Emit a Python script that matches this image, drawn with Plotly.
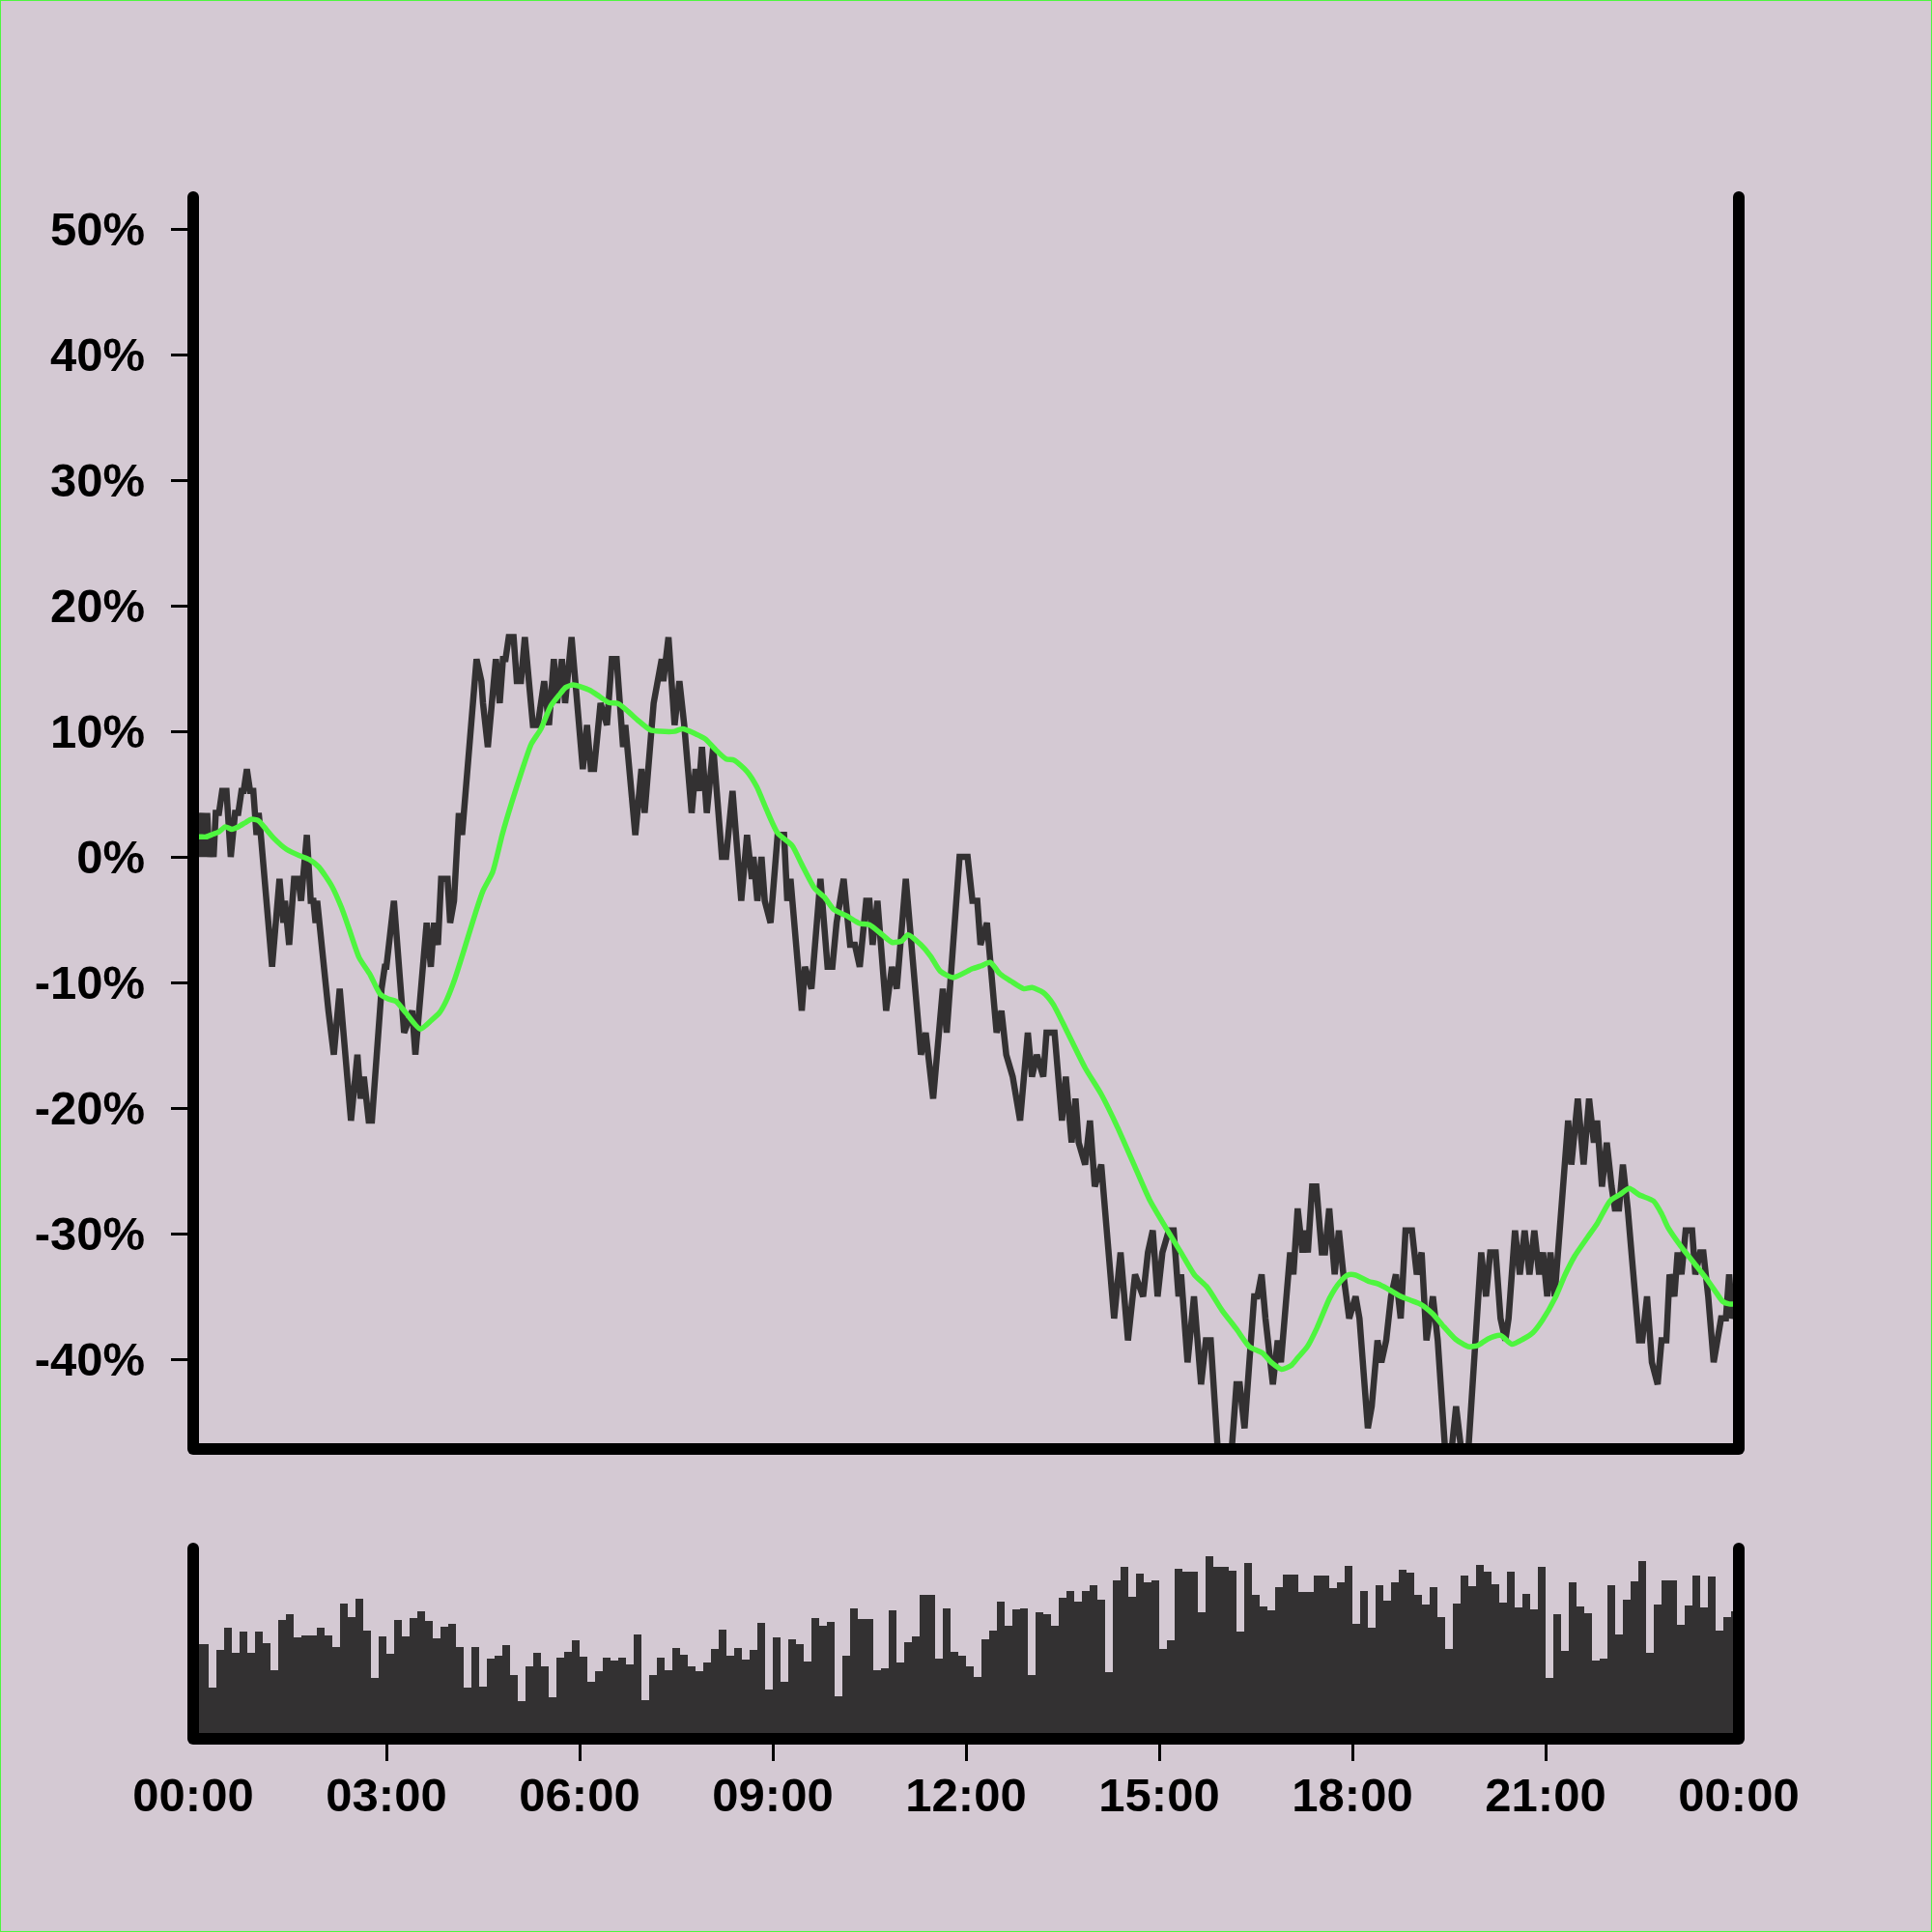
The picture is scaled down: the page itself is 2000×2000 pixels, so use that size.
import plotly.graph_objects as go

BG = "#d4c9d3"
DARK = "#333132"
GREEN = "#4ef53f"

# ---- price change line (minutes after 00:00, percent) ----
LINE_MIN = [
    0, 3, 6, 9, 11, 13, 15, 17, 19, 21,
    24, 27, 31, 35, 39, 42, 45, 47, 50, 53,
    56, 59, 61, 63, 73.5, 80.4, 84, 85.5, 89.4, 94,
    98, 100.5, 105.9, 109.5, 112, 114, 115.5, 123, 126, 131,
    136.5, 147, 153, 156, 159, 163.5, 166.5, 175.5, 178.5, 180,
    187, 196.5, 202.5, 204, 207, 217.5, 221.4, 224.4, 228, 231,
    237, 239.4, 243, 247.5, 250.5, 264, 268.5, 270, 274.5, 282,
    285.6, 288.6, 291, 294, 298.5, 301.5, 305.4, 309, 316.5, 321,
    327, 331.5, 336, 339, 343.5, 346.5, 352.5, 363, 366.9, 370.5,
    373.5, 379.5, 385.5, 390, 394.5, 400.5, 402.6, 411.9, 417.6, 420.6,
    429, 436.5, 438, 442.8, 448.5, 453, 457.5, 464.4, 468, 471,
    474, 478.5, 484.5, 492.6, 496.5, 502.5, 510.6, 516, 520.5, 522,
    525.6, 529.5, 532.5, 537.9, 544.5, 550.5, 553.5, 556.5, 567, 570,
    576, 584.4, 591, 595.5, 599.4, 606, 612, 616.5, 621, 627,
    630, 633, 637.5, 645.6, 651, 655.5, 663.9, 669, 678, 682.5,
    689.4, 698.4, 702, 706.5, 714, 721.5, 726, 730.5, 733.5, 739.5,
    748.5, 753, 757.5, 763.5, 770.4, 777.6, 781.5, 786, 792, 795,
    802.5, 809.4, 813, 818.4, 822, 825, 831, 835.5, 840, 846,
    858, 864, 870.9, 877.5, 885, 889.5, 894, 898.5, 903, 909,
    913.5, 918, 920.4, 926.4, 932.4, 939, 943.5, 948, 954.6, 967.5,
    972, 975, 979.5, 988.5, 991.5, 995.4, 999, 1005.9, 1010.4, 1013.4,
    1022, 1025, 1029, 1033.5, 1036.5, 1038.5, 1042.5, 1046.4, 1051.5, 1054.5,
    1058.4, 1063.5, 1067.4, 1071.6, 1077, 1083, 1086.6, 1094.4, 1098, 1103.4,
    1107, 1111.5, 1116, 1120.5, 1125, 1129.5, 1135.5, 1140, 1144.5, 1149,
    1155, 1159.5, 1166.4, 1172.4, 1176.6, 1181.4, 1188, 1200, 1204.5, 1208.4,
    1213.5, 1218, 1222.5, 1225.5, 1231.5, 1236, 1240.5, 1245, 1249.5, 1254,
    1257.6, 1261.5, 1264.5, 1268.4, 1281, 1284, 1290, 1295.4, 1300.5, 1305,
    1308, 1312.5, 1317, 1321.5, 1324.5, 1328.4, 1332, 1336.5, 1347, 1350,
    1354.5, 1359, 1364.4, 1368, 1372.5, 1375.5, 1380, 1383, 1386.6, 1390.5,
    1396.5, 1399.5, 1404, 1407, 1411.5, 1416.6, 1420.5, 1423.5, 1428, 1431,
    1434, 1440,
]
LINE_PCT = [
    1.75, 3.5, 0, 3.5, 0, 3.5, 0, 1.75, 0, 3.5,
    3.5, 5.25, 5.25, 0, 3.5, 3.5, 5.25, 5.25, 7, 5.25,
    5.25, 1.75, 3.5, 1.75, -8.75, -1.75, -5.25, -3.5, -7, -1.75,
    -1.75, -3.5, 1.75, -3.5, -3.5, -5.25, -3.5, -10.5, -12.25, -15.75,
    -10.5, -21, -15.75, -19.25, -17.5, -21, -21, -10.5, -8.75, -8.75,
    -3.5, -14, -12.25, -12.25, -15.75, -5.25, -8.75, -5.25, -7, -1.75,
    -1.75, -5.25, -3.5, 3.5, 1.75, 15.75, 14, 12.25, 8.75, 15.75,
    12.25, 15.75, 15.75, 17.5, 17.5, 14, 14, 17.5, 10.5, 10.5,
    14, 10.5, 15.75, 12.25, 15.75, 12.25, 17.5, 7, 10.5, 7,
    7, 12.25, 10.5, 15.75, 15.75, 8.75, 10.5, 1.75, 7, 3.5,
    12.25, 15.75, 14, 17.5, 10.5, 14, 10.5, 3.5, 7, 5.25,
    8.75, 3.5, 8.75, 0, 0, 5.25, -3.5, 1.75, -1.75, 0,
    -3.5, 0, -3.5, -5.25, 1.75, 1.75, -3.5, -1.75, -12.25, -8.75,
    -10.5, -1.75, -8.75, -8.75, -5.25, -1.75, -7, -7, -8.75, -3.5,
    -3.5, -7, -3.5, -12.25, -8.75, -10.5, -1.75, -7, -15.75, -14,
    -19.25, -10.5, -14, -8.75, 0, 0, -3.5, -3.5, -7, -5.25,
    -14, -12.25, -15.75, -17.5, -21, -14, -17.5, -15.75, -17.5, -14,
    -14, -21, -17.5, -22.75, -19.25, -22.75, -24.5, -21, -26.25, -24.5,
    -36.75, -31.5, -38.5, -33.25, -35, -31.5, -29.75, -35, -31.5, -29.75,
    -29.75, -35, -33.25, -40.25, -35, -42, -38.5, -38.5, -47.25, -47.25,
    -42, -42, -45.5, -35, -35, -33.25, -36.75, -42, -38.5, -40.25,
    -31.5, -33.25, -28, -31.5, -29.75, -31.5, -26.25, -26.25, -31.5, -31.5,
    -28, -33.25, -29.75, -33.25, -36.75, -35, -36.75, -45.5, -43.75, -38.5,
    -40.25, -38.5, -35, -33.25, -36.75, -29.75, -29.75, -33.25, -31.5, -38.5,
    -35, -38.5, -47.25, -47.25, -43.75, -47.25, -47.25, -31.5, -35, -31.5,
    -31.5, -36.75, -38.5, -36.75, -29.75, -33.25, -29.75, -33.25, -29.75, -33.25,
    -31.5, -35, -31.5, -35, -21, -24.5, -19.25, -24.5, -19.25, -22.75,
    -21, -26.25, -22.75, -26.25, -28, -28, -24.5, -28, -38.5, -38.5,
    -35, -40.25, -42, -38.5, -38.5, -33.25, -35, -31.5, -33.25, -29.75,
    -29.75, -33.25, -31.5, -31.5, -35, -40.25, -38.5, -36.75, -36.75, -33.25,
    -36.75, -35,
]

# ---- moving average (minutes, percent) ----
MA_MIN = [
    0, 5.4, 12, 18, 24, 30, 36, 42, 48, 54,
    60.6, 66, 75, 87, 99, 108, 117, 129, 138, 145.5,
    154.5, 165, 174, 181.5, 189, 198, 211.5, 222, 229.5, 235.5,
    243, 252, 261, 270, 279, 288, 297, 306, 315, 324,
    333, 342, 347, 354, 369, 376.5, 387, 396, 405, 414,
    426, 435, 448.5, 456, 468, 477, 486, 496.5, 504, 516,
    525, 534, 544.5, 558, 567, 579, 588, 597, 609, 621,
    630, 642, 651, 660, 666, 678, 687, 696, 708, 726,
    733.5, 742.5, 751.5, 762, 774, 781.5, 792, 801, 813, 831,
    846, 861, 876, 891, 906, 921, 933, 945, 958.5, 972,
    984, 996, 1005, 1014, 1023, 1029, 1038, 1047, 1059, 1068,
    1075.5, 1083, 1095, 1104, 1113, 1125, 1134, 1143, 1155, 1164,
    1176, 1188, 1197, 1206, 1218, 1228.5, 1239, 1248, 1257, 1269,
    1278, 1287, 1299, 1308, 1320, 1329, 1338, 1347, 1360.5, 1368,
    1374, 1386, 1398, 1410, 1419, 1425, 1431, 1440,
]
MA_PCT = [
    1.5, 1.6, 1.6, 1.8, 2.0, 2.4, 2.2, 2.4, 2.7, 3.0,
    2.9, 2.4, 1.5, 0.6, 0.1, -0.2, -0.8, -2.3, -4.0, -5.8,
    -8.0, -9.4, -10.9, -11.3, -11.5, -12.4, -13.7, -13.0, -12.4, -11.5,
    -9.9, -7.5, -5.0, -2.7, -1.2, 1.8, 4.4, 6.8, 9.0, 10.2,
    12.0, 13.0, 13.5, 13.7, 13.3, 12.9, 12.3, 12.2, 11.6, 10.9,
    10.1, 10.0, 10.0, 10.2, 9.8, 9.4, 8.6, 7.8, 7.7, 6.8,
    5.6, 3.8, 1.9, 0.9, -0.6, -2.5, -3.2, -4.2, -4.7, -5.3,
    -5.4, -6.2, -6.8, -6.7, -6.2, -7.0, -7.9, -9.1, -9.6, -8.9,
    -8.7, -8.4, -9.3, -9.9, -10.5, -10.4, -10.8, -11.7, -13.7, -16.8,
    -18.9, -21.5, -24.4, -27.3, -29.5, -31.6, -33.3, -34.3, -36.1, -37.6,
    -39.0, -39.5, -40.3, -40.8, -40.5, -39.9, -39.0, -37.5, -35.1, -33.9,
    -33.3, -33.3, -33.8, -34.0, -34.4, -35.0, -35.3, -35.6, -36.4, -37.3,
    -38.4, -39.0, -38.9, -38.4, -38.1, -38.8, -38.4, -37.9, -36.9, -35.1,
    -33.3, -31.8, -30.3, -29.2, -27.4, -26.9, -26.4, -26.9, -27.4, -28.4,
    -29.5, -31.0, -32.3, -33.6, -34.7, -35.4, -35.6, -35.6,
]

# ---- volume (one bar per 7.2-minute interval) ----
VOLUME = [
    92, 92, 47, 86, 109, 83, 105, 83, 105, 93,
    65, 117, 123, 99, 101, 101, 109, 101, 89, 134,
    120, 139, 106, 57, 100, 82, 117, 100, 119, 126,
    116, 98, 110, 113, 89, 47, 89, 48, 77, 80,
    91, 60, 33, 69, 83, 69, 37, 78, 84, 96,
    79, 53, 64, 78, 75, 78, 71, 102, 34, 60,
    78, 65, 88, 81, 69, 64, 73, 87, 107, 80,
    88, 76, 86, 114, 45, 99, 53, 97, 92, 74,
    119, 111, 115, 38, 80, 129, 118, 118, 65, 67,
    127, 73, 94, 100, 143, 143, 77, 129, 84, 80,
    69, 58, 97, 106, 136, 111, 128, 129, 60, 125,
    123, 111, 140, 147, 136, 147, 153, 138, 63, 158,
    172, 141, 165, 156, 158, 87, 96, 170, 167, 167,
    125, 183, 172, 172, 168, 105, 176, 143, 131, 127,
    151, 164, 164, 146, 146, 163, 163, 150, 156, 173,
    113, 147, 109, 153, 137, 156, 169, 166, 143, 133,
    151, 120, 87, 134, 163, 152, 174, 167, 154, 135,
    167, 130, 144, 128, 172, 57, 123, 85, 156, 131,
    124, 75, 77, 153, 102, 138, 157, 178, 83, 133,
    158, 158, 112, 132, 163, 130, 162, 106, 120, 126,
]
VOL_STEP_MIN = 7.2
VOL_MIN = [VOL_STEP_MIN * (i + 0.5) for i in range(len(VOLUME))]

# ---- ticks ----
Y_TICK_VALS = [-40, -30, -20, -10, 0, 10, 20, 30, 40, 50]
Y_TICK_TEXT = ["-40%", "-30%", "-20%", "-10%", "0%", "10%", "20%", "30%", "40%", "50%"]
X_TICK_VALS = [0, 180, 360, 540, 720, 900, 1080, 1260, 1440]
X_TICK_TEXT = ["00:00", "03:00", "06:00", "09:00", "12:00", "15:00", "18:00", "21:00", "00:00"]

assert len(LINE_MIN) == len(LINE_PCT)
assert len(MA_MIN) == len(MA_PCT)

W = H = 2000
L, R, T, B = 200, 200, 204, 200
PW, PH = W - L - R, H - T - B


def px(x):
    return (x - L) / PW


def py(y):
    return (H - B - y) / PH


MAIN_BOTTOM = 1500
VOL_TOP = 1603
main_dom = [py(MAIN_BOTTOM), 1.0]
vol_dom = [0.0, py(VOL_TOP)]

FONT = dict(family="Liberation Sans, Arial, Helvetica, sans-serif", size=49, color="black", weight=700)

fig = go.Figure()
fig.add_trace(go.Bar(
    x=VOL_MIN, y=VOLUME, width=VOL_STEP_MIN,
    marker=dict(color=DARK, line=dict(width=0)),
    xaxis="x2", yaxis="y2", hoverinfo="skip",
))
fig.add_trace(go.Scatter(
    x=LINE_MIN, y=LINE_PCT, mode="lines",
    line=dict(color=DARK, width=6.5), xaxis="x", yaxis="y",
))
fig.add_trace(go.Scatter(
    x=MA_MIN, y=MA_PCT, mode="lines",
    line=dict(color=GREEN, width=5.5, shape="spline", smoothing=0.6), xaxis="x", yaxis="y",
))

LW = 12
shapes = []


def seg(x0, y0, x1, y1):
    shapes.append(dict(type="line", xref="paper", yref="paper",
                       x0=px(x0), y0=py(y0), x1=px(x1), y1=py(y1),
                       line=dict(color="black", width=LW), layer="above"))


def cap(x, y):
    r = LW / 2
    shapes.append(dict(type="circle", xref="paper", yref="paper",
                       x0=px(x - r), x1=px(x + r), y0=py(y + r), y1=py(y - r),
                       fillcolor="black", line=dict(width=0), layer="above"))


# main panel frame
seg(200, 204, 200, MAIN_BOTTOM)
seg(1800, 204, 1800, MAIN_BOTTOM)
seg(200, MAIN_BOTTOM, 1800, MAIN_BOTTOM)
# volume panel frame
seg(200, VOL_TOP, 200, 1800)
seg(1800, VOL_TOP, 1800, 1800)
seg(200, 1800, 1800, 1800)
for (cx, cy) in [(200, 204), (1800, 204), (200, MAIN_BOTTOM), (1800, MAIN_BOTTOM),
                 (200, VOL_TOP), (1800, VOL_TOP), (200, 1800), (1800, 1800)]:
    cap(cx, cy)
# thin outer border
shapes.append(dict(type="rect", xref="paper", yref="paper",
                   x0=px(0), x1=px(W), y0=py(H), y1=py(0),
                   line=dict(color=GREEN, width=2), fillcolor="rgba(0,0,0,0)", layer="above"))

y_top = 52.55
y_bot = -47.15

fig.update_layout(
    width=W, height=H,
    margin=dict(l=L, r=R, t=T, b=B),
    paper_bgcolor=BG, plot_bgcolor=BG,
    showlegend=False, bargap=0,
    shapes=shapes,
    xaxis=dict(domain=[0, 1], anchor="y", range=[0, 1440], showticklabels=False,
               ticks="", showgrid=False, zeroline=False, showline=False),
    yaxis=dict(domain=main_dom, anchor="x", range=[y_bot, y_top],
               tickmode="array", tickvals=Y_TICK_VALS, ticktext=Y_TICK_TEXT,
               ticks="outside", ticklen=22, tickwidth=3, tickcolor="black",
               tickfont=FONT, ticklabelstandoff=17,
               showgrid=False, zeroline=False, showline=False),
    xaxis2=dict(domain=[0, 1], anchor="y2", range=[0, 1440],
                tickmode="array", tickvals=X_TICK_VALS, ticktext=X_TICK_TEXT,
                ticks="", tickfont=FONT, ticklabelstandoff=25,
                minor=dict(tickmode="array", tickvals=X_TICK_VALS[1:-1], ticks="outside",
                           ticklen=22, tickwidth=3, tickcolor="black"),
                showgrid=False, zeroline=False, showline=False),
    yaxis2=dict(domain=vol_dom, anchor="x2", range=[-6.5, 190.5],
                showticklabels=False, ticks="", showgrid=False, zeroline=False, showline=False),
)

fig.write_html(
    "out.html",
    config={"displayModeBar": False},
    post_script="document.body.style.margin='0';document.body.style.padding='0';",
)
